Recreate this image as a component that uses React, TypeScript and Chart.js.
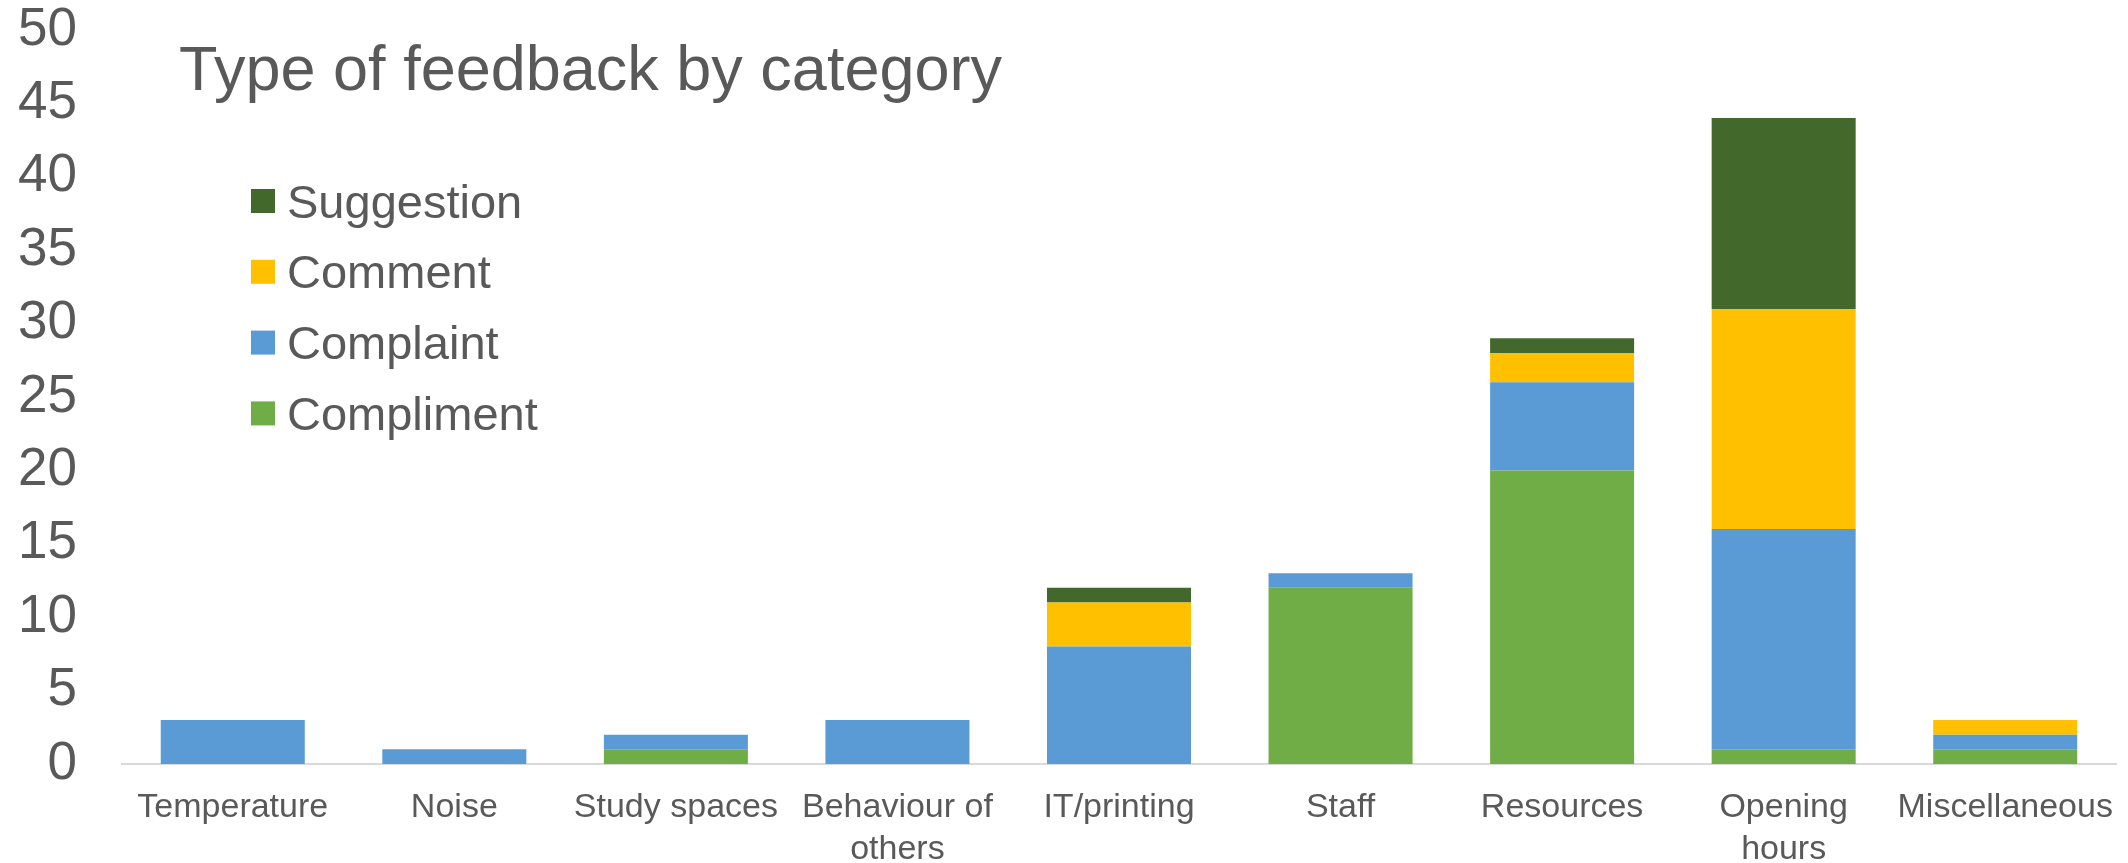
import React, { useEffect, useRef } from "react";
import { Chart, registerables } from "chart.js";

Chart.register(...registerables);

const TITLE = "Type of feedback by category";
const categories: (string | string[])[] = [
  "Temperature",
  "Noise",
  "Study spaces",
  ["Behaviour of", "others"],
  "IT/printing",
  "Staff",
  "Resources",
  ["Opening", "hours"],
  "Miscellaneous",
];
const compliment = [0, 0, 1, 0, 0, 12, 20, 1, 1];
const complaint = [3, 1, 1, 3, 8, 1, 6, 15, 1];
const comment = [0, 0, 0, 0, 3, 0, 2, 15, 1];
const suggestion = [0, 0, 0, 0, 1, 0, 1, 13, 0];
const seriesNames = ["Compliment", "Complaint", "Comment", "Suggestion"];
const seriesColors = ["#70AD47", "#5B9BD5", "#FFC000", "#43682B"];
const yTicksMin = 0;
const yTicksMax = 50;
const yTicksStep = 5;

const FONT = "'Liberation Sans', Arial, Helvetica, sans-serif";
const TEXT = "#595959";

const overlayPlugin = {
  id: "overlay",
  afterDraw(chart: any) {
    const ctx = chart.ctx as CanvasRenderingContext2D;
    const area = chart.chartArea;
    ctx.save();
    ctx.fillStyle = TEXT;
    ctx.textAlign = "left";
    ctx.textBaseline = "alphabetic";
    ctx.font = `63px ${FONT}`;
    ctx.fillText(TITLE, area.left + 57, 90);

    const ds = [...chart.data.datasets].reverse();
    const size = 47;
    ds.forEach((d: any, i: number) => {
      const cy = 201 + i * 70.8;
      ctx.fillStyle = d.backgroundColor;
      ctx.fillRect(area.left + 129, cy - 12, 24, 24);
      ctx.fillStyle = TEXT;
      ctx.font = `${size}px ${FONT}`;
      ctx.textBaseline = "alphabetic";
      ctx.fillText(d.label, area.left + 165, cy + size * 0.355);
    });
    ctx.restore();
  },
};

export default function App() {
  const ref = useRef<HTMLCanvasElement>(null);
  useEffect(() => {
    document.body.style.margin = "0";
    const values = [compliment, complaint, comment, suggestion];
    const chart = new Chart(ref.current!, {
      type: "bar",
      data: {
        labels: categories,
        datasets: seriesNames.map((name, i) => ({
          label: name,
          data: values[i],
          backgroundColor: seriesColors[i],
          borderWidth: 0,
          barPercentage: 0.65,
          categoryPercentage: 1,
        })),
      },
      options: {
        animation: false,
        responsive: false,
        devicePixelRatio: 1,
        layout: { padding: { top: 30, left: 0, right: 12, bottom: 0 } },
        plugins: {
          legend: { display: false },
          title: { display: false },
          tooltip: { enabled: false },
        },
        scales: {
          x: {
            stacked: true,
            grid: { display: false, drawTicks: false },
            border: { display: true, color: "#D9D9D9", width: 2 },
            ticks: {
              color: TEXT,
              font: { family: FONT, size: 34, lineHeight: 1.25 },
              padding: 22,
              autoSkip: false,
              maxRotation: 0,
              minRotation: 0,
            },
            afterFit: (s: any) => {
              s.height = 99;
              s.paddingLeft = 0;
              s.paddingRight = 0;
            },
          },
          y: {
            stacked: true,
            min: yTicksMin,
            max: yTicksMax,
            grid: { display: false, drawTicks: false },
            border: { display: false },
            ticks: {
              stepSize: yTicksStep,
              color: TEXT,
              font: { family: FONT, size: 53, lineHeight: 1 },
              padding: 45,
            },
            afterFit: (s: any) => {
              s.width = 122;
              s.paddingTop = 0;
              s.paddingBottom = 0;
            },
          },
        },
      },
      plugins: [overlayPlugin],
    });
    return () => chart.destroy();
  }, []);
  return (
    <div style={{ width: 2128, height: 863 }}>
      <canvas ref={ref} width={2128} height={863} style={{ display: "block" }} />
    </div>
  );
}
